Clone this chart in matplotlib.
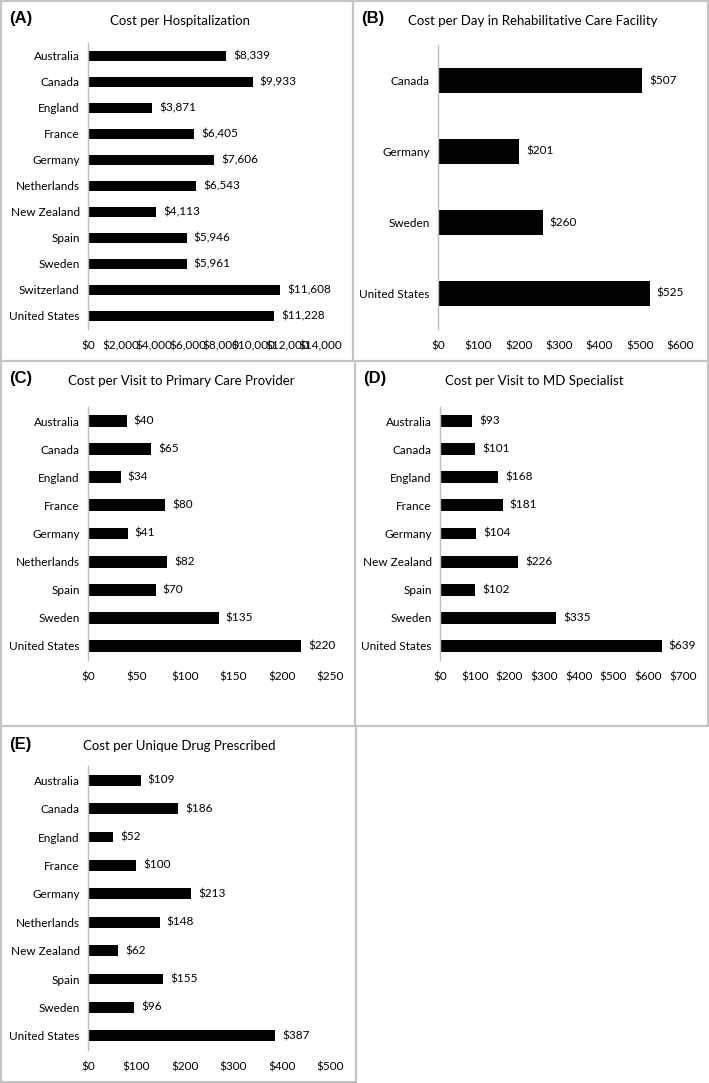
import matplotlib
matplotlib.use("Agg")
import matplotlib.pyplot as plt
from matplotlib.patches import Rectangle
from matplotlib.ticker import FuncFormatter

plt.rcParams["font.family"] = ["Lato", "DejaVu Sans"]

hosp_countries = ["Australia", "Canada", "England", "France", "Germany", "Netherlands",
                  "New Zealand", "Spain", "Sweden", "Switzerland", "United States"]
hosp_costs = [8339, 9933, 3871, 6405, 7606, 6543, 4113, 5946, 5961, 11608, 11228]

rehab_countries = ["Canada", "Germany", "Sweden", "United States"]
rehab_costs = [507, 201, 260, 525]

pcp_countries = ["Australia", "Canada", "England", "France", "Germany", "Netherlands",
                 "Spain", "Sweden", "United States"]
pcp_costs = [40, 65, 34, 80, 41, 82, 70, 135, 220]

md_countries = ["Australia", "Canada", "England", "France", "Germany", "New Zealand",
                "Spain", "Sweden", "United States"]
md_costs = [93, 101, 168, 181, 104, 226, 102, 335, 639]

drug_countries = ["Australia", "Canada", "England", "France", "Germany", "Netherlands",
                  "New Zealand", "Spain", "Sweden", "United States"]
drug_costs = [109, 186, 52, 100, 213, 148, 62, 155, 96, 387]

W, H = 709, 1083
fig = plt.figure(figsize=(W / 100, H / 100), dpi=100)


def px_axes(left, right, top, bottom):
    return fig.add_axes([left / W, 1 - bottom / H, (right - left) / W, (bottom - top) / H])


def border(x0, y0, x1, y1):
    fig.patches.append(Rectangle((x0 / W, 1 - y1 / H), (x1 - x0) / W, (y1 - y0) / H,
                                 transform=fig.transFigure, fill=False,
                                 edgecolor="#c4c4c4", linewidth=1.5))


def panel(box, letter, title, title_x, ax_box, countries, costs, xmax, step, bar_h):
    x0, y0, x1, y1 = box
    border(x0, y0, x1, y1)
    fig.text((x0 + 8) / W, 1 - (y0 + 18) / H, letter, fontsize=12,
             family="Liberation Sans", weight="bold", va="center", ha="left")
    fig.text(title_x / W, 1 - (y0 + 20) / H, title, fontsize=9.5, va="center", ha="left")

    ax = px_axes(*ax_box)
    pos = list(range(len(countries)))
    ax.barh(pos, costs, height=bar_h, color="black")
    ax.set_yticks(pos)
    ax.set_yticklabels(countries, fontsize=8.5)
    ax.set_ylim(len(countries) - 0.5, -0.5)
    ax.set_xlim(0, xmax)
    ax.set_xticks(list(range(0, xmax + 1, step)))
    ax.xaxis.set_major_formatter(FuncFormatter(lambda v, p: "${:,.0f}".format(v)))
    ax.tick_params(axis="both", length=0, labelsize=8.5)
    ax.tick_params(axis="x", pad=8)
    ax.tick_params(axis="y", pad=6)
    for s in ["top", "right", "bottom"]:
        ax.spines[s].set_visible(False)
    ax.spines["left"].set_color("#bdbdbd")
    ax.spines["left"].set_linewidth(1)
    ax.patch.set_alpha(0)
    for y, v in zip(pos, costs):
        ax.annotate("${:,}".format(v), (v, y), xytext=(5, 0), textcoords="offset points",
                    va="center", ha="left", fontsize=8.5)
    return ax


panel((1, 1, 353, 361), "(A)", "Cost per Hospitalization", 110,
      (88, 320, 43, 329), hosp_countries, hosp_costs, 14000, 2000, 0.4)
panel((353, 1, 708, 361), "(B)", "Cost per Day in Rehabilitative Care Facility", 408,
      (438, 680, 45, 329), rehab_countries, rehab_costs, 600, 100, 0.36)
panel((1, 361, 355, 726), "(C)", "Cost per Visit to Primary Care Provider", 68,
      (88, 330, 407, 660), pcp_countries, pcp_costs, 250, 50, 0.42)
panel((355, 361, 708, 726), "(D)", "Cost per Visit to MD Specialist", 445,
      (440, 683, 407, 660), md_countries, md_costs, 700, 100, 0.42)
panel((1, 726, 356, 1082), "(E)", "Cost per Unique Drug Prescribed", 83,
      (88, 330, 766, 1050), drug_countries, drug_costs, 500, 100, 0.38)

fig.savefig("out.png", dpi=100)
